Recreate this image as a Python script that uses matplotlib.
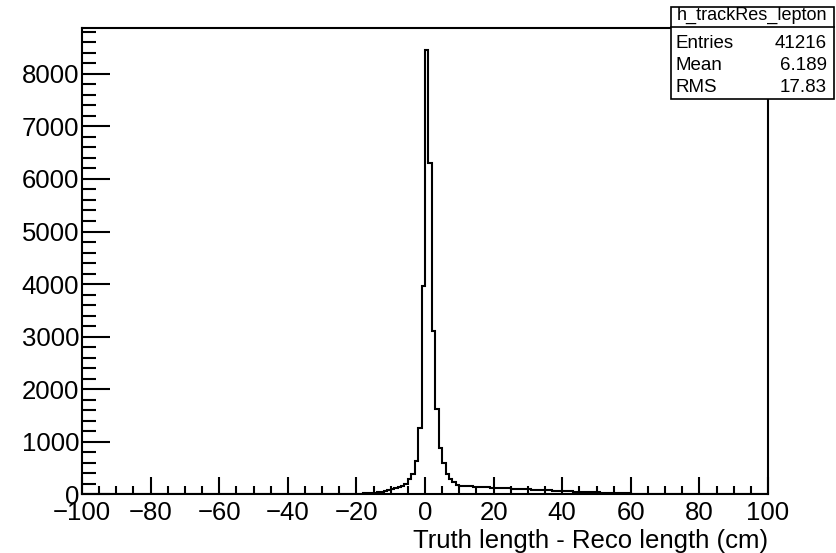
import numpy as np
import matplotlib
matplotlib.use('Agg')
import matplotlib.pyplot as plt
from matplotlib.ticker import MultipleLocator

plt.rcParams['font.family'] = ['Liberation Sans', 'DejaVu Sans']

# histogram h_trackRes_lepton, 1 cm bins from -100 to 100
bin_lo = -100
bin_hi = 100
counts = [
    # -100 .. -51
    0, 0, 0, 0, 0, 0, 0, 0, 0, 0,
    0, 0, 0, 0, 0, 0, 0, 0, 0, 0,
    0, 0, 0, 0, 0, 0, 0, 0, 0, 0,
    0, 0, 0, 0, 0, 0, 0, 0, 0, 0,
    0, 0, 0, 0, 0, 1, 0, 1, 0, 1,
    # -50 .. -21
    1, 1, 1, 1, 1, 1, 2, 1, 2, 2,
    2, 2, 3, 2, 3, 3, 3, 4, 4, 5,
    5, 6, 6, 7, 8, 8, 9, 10, 11, 12,
    # -20 .. -1
    12, 14, 17, 20, 25, 30, 38, 48, 62, 80,
    100, 115, 135, 158, 196, 286, 381, 634, 1257, 3968,
    # 0 .. 49
    8450, 6305, 3110, 1619, 876, 602, 381, 286, 234, 183,
    165, 158, 155, 150, 148, 145, 140, 136, 132, 128,
    125, 122, 118, 115, 112, 110, 106, 102, 98, 95,
    92, 88, 85, 82, 80, 78, 75, 72, 70, 67,
    64, 60, 56, 52, 50, 48, 45, 42, 40, 38,
    # 50 .. 99
    35, 32, 30, 28, 26, 24, 22, 20, 18, 17,
    15, 14, 13, 12, 11, 10, 9, 8, 7, 7,
    6, 6, 5, 5, 4, 4, 4, 3, 3, 3,
    2, 2, 2, 2, 2, 1, 1, 1, 1, 1,
    1, 1, 1, 0, 1, 0, 0, 1, 0, 0,
]
edges = np.arange(bin_lo, bin_hi + 1, 1)

stat_name = 'h_trackRes_lepton'
stat_labels = ['Entries', 'Mean', 'RMS']
stat_values = ['41216', '6.189', '17.83']

fig = plt.figure(figsize=(8.36, 5.53), dpi=100)
ax = fig.add_axes([0.0981, 0.1061, 0.8206, 0.8433])

ax.stairs(counts, edges, color='black', linewidth=1.5)

ax.set_xlim(bin_lo, bin_hi)
ax.set_ylim(0, 1.05 * max(counts))

ax.xaxis.set_major_locator(MultipleLocator(20))
ax.xaxis.set_minor_locator(MultipleLocator(5))
ax.yaxis.set_major_locator(MultipleLocator(1000))
ax.yaxis.set_minor_locator(MultipleLocator(200))

ax.tick_params(axis='both', which='both', direction='in', top=False, right=False,
               labelsize=18.5, width=1.5, color='black')
ax.tick_params(axis='x', which='major', length=12, pad=5)
ax.tick_params(axis='x', which='minor', length=6)
ax.tick_params(axis='y', which='major', length=20, pad=2)
ax.tick_params(axis='y', which='minor', length=10)

for s in ax.spines.values():
    s.set_linewidth(1.5)

ax.set_xlabel('Truth length - Reco length (cm)', fontsize=18.5, loc='right', labelpad=3)

# stats box
bx0, bx1 = 671 / 836, 834 / 836
by_top, by_sep, by_bot = 1 - 7 / 553, 1 - 27 / 553, 1 - 99 / 553
fig.patches.append(plt.Rectangle((bx0, by_bot), bx1 - bx0, by_top - by_bot,
                                 transform=fig.transFigure, facecolor='white',
                                 edgecolor='black', linewidth=1.2, zorder=5))
fig.add_artist(plt.Line2D([bx0, bx1], [by_sep, by_sep], transform=fig.transFigure,
                          color='black', linewidth=1.2, zorder=6))
fig.text((bx0 + bx1) / 2, 1 - 15 / 553, stat_name, ha='center', va='center',
         fontsize=13, zorder=7)
row_y = [43, 66, 87]
for lab, val, yy in zip(stat_labels, stat_values, row_y):
    fig.text(bx0 + 4 / 836, 1 - yy / 553, lab, ha='left', va='center', fontsize=13.5, zorder=7)
    fig.text(bx1 - 7 / 836, 1 - yy / 553, val, ha='right', va='center', fontsize=13.5, zorder=7)

fig.savefig('out.png', dpi=100)
